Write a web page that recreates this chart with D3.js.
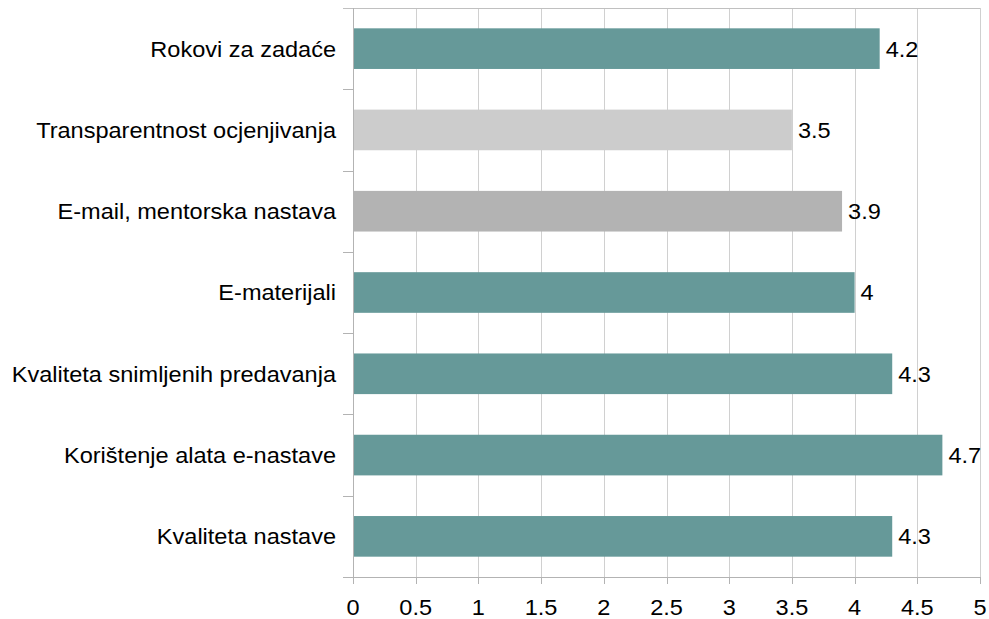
<!DOCTYPE html>
<html>
<head>
<meta charset="utf-8">
<script src="https://cdn.jsdelivr.net/npm/d3@7"></script>
<style>
  body { margin: 0; background: #fff; }
  text { font-family: "Liberation Sans", Arial, sans-serif; fill: #000; }
</style>
</head>
<body>
<div id="chart"></div>
<script>
// =================================== DATA ===================================

const categories = [
  "Rokovi za zadaće",
  "Transparentnost ocjenjivanja",
  "E-mail, mentorska nastava",
  "E-materijali",
  "Kvaliteta snimljenih predavanja",
  "Korištenje alata e-nastave",
  "Kvaliteta nastave"
]
const values = [4.2, 3.5, 3.9, 4, 4.3, 4.7, 4.3]
const barColors = ["#669999", "#cccccc", "#b3b3b3", "#669999", "#669999", "#669999", "#669999"]
const xTicks = [0, 0.5, 1, 1.5, 2, 2.5, 3, 3.5, 4, 4.5, 5]

// =================================== SETTINGS ===================================

const width = 989
const height = 619
const margin = { top: 8, right: 9, bottom: 42, left: 353 }
const plotW = width - margin.left - margin.right
const plotH = height - margin.top - margin.bottom
const fontSize = '22px'
const stretch = 1.07 // text in the original is a bit wider

const svg = d3.select('#chart')
  .append('svg')
  .attr('width', width)
  .attr('height', height)

const g = svg.append('g')
  .attr('transform', `translate(${margin.left},${margin.top})`)

const x = d3.scaleLinear().domain([0, 5]).range([0, plotW])
const y = d3.scaleBand().domain(categories).range([0, plotH])
  .paddingInner(0.5).paddingOuter(0.25)

// =================================== GRID ===================================

g.append('g')
  .selectAll('line')
  .data(xTicks.slice(1))
  .enter().append('line')
  .attr('x1', d => Math.round(x(d)) + 0.5)
  .attr('x2', d => Math.round(x(d)) + 0.5)
  .attr('y1', 0)
  .attr('y2', plotH)
  .style('stroke', '#d0d0d0')
  .style('stroke-width', 1)

// top line
g.append('line')
  .attr('x1', -10).attr('x2', plotW)
  .attr('y1', 0.5).attr('y2', 0.5)
  .style('stroke', '#c0c0c0')

// =================================== BARS ===================================

g.selectAll('.bar')
  .data(values)
  .enter().append('rect')
  .attr('class', 'bar')
  .attr('x', 0)
  .attr('y', (d, i) => y(categories[i]))
  .attr('width', d => x(d))
  .attr('height', y.bandwidth())
  .style('fill', (d, i) => barColors[i])

// value labels
g.selectAll('.val')
  .data(values)
  .enter().append('text')
  .attr('class', 'val')
  .attr('transform', (d, i) =>
    `translate(${x(d) + 6},${y(categories[i]) + y.bandwidth() / 2}) scale(${stretch},1)`)
  .attr('dy', '0.36em')
  .style('font-size', fontSize)
  .text(d => d)

// =================================== AXES ===================================

// category boundary ticks on the left
const step = y.step()
g.append('g')
  .selectAll('line')
  .data(d3.range(1, categories.length + 1))
  .enter().append('line')
  .attr('x1', -10).attr('x2', 0)
  .attr('y1', d => Math.round(d * step) + 0.5)
  .attr('y2', d => Math.round(d * step) + 0.5)
  .style('stroke', '#b3b3b3')

// left axis line
g.append('line')
  .attr('x1', 0.5).attr('x2', 0.5)
  .attr('y1', 0).attr('y2', plotH + 7)
  .style('stroke', '#b3b3b3')

// bottom axis line
g.append('line')
  .attr('x1', -10).attr('x2', plotW)
  .attr('y1', plotH + 0.5).attr('y2', plotH + 0.5)
  .style('stroke', '#b3b3b3')

// bottom ticks
g.append('g')
  .selectAll('line')
  .data(xTicks)
  .enter().append('line')
  .attr('x1', d => Math.round(x(d)) + 0.5)
  .attr('x2', d => Math.round(x(d)) + 0.5)
  .attr('y1', plotH)
  .attr('y2', plotH + 7)
  .style('stroke', '#b3b3b3')

// x tick labels
g.append('g')
  .selectAll('text')
  .data(xTicks)
  .enter().append('text')
  .attr('transform', d => `translate(${x(d)},${plotH + 38}) scale(${stretch},1)`)
  .attr('text-anchor', 'middle')
  .style('font-size', fontSize)
  .text(d => d)

// category labels
g.append('g')
  .selectAll('text')
  .data(categories)
  .enter().append('text')
  .attr('transform', d => `translate(-17,${y(d) + y.bandwidth() / 2}) scale(${stretch},1)`)
  .attr('dy', '0.36em')
  .attr('text-anchor', 'end')
  .style('font-size', fontSize)
  .text(d => d)
</script>
</body>
</html>
